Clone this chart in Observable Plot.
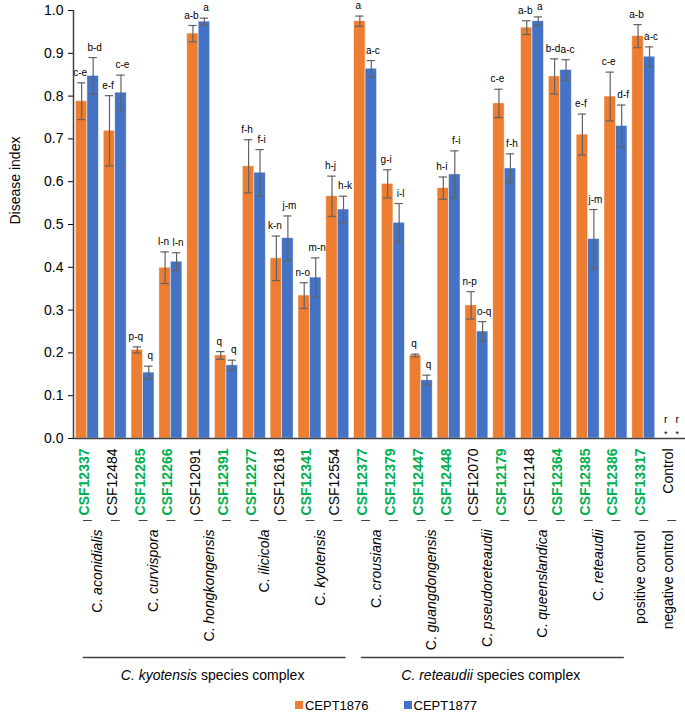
<!DOCTYPE html>
<html><head><meta charset="utf-8">
<script src="https://cdn.jsdelivr.net/npm/d3@7"></script>
<script src="https://cdn.jsdelivr.net/npm/@observablehq/plot@0.6"></script>
<style>
body{margin:0;background:#fff;font-family:"Liberation Sans",Arial,sans-serif;}
#legend{display:flex;justify-content:center;align-items:center;gap:35px;padding-left:87px;height:20px;font-size:13px;color:#000;}
#legend .it{display:flex;align-items:center;}
#legend .sw{display:inline-block;width:8px;height:8px;margin-right:2px;}
</style></head><body>
<div id="chart"></div>
<div id="legend"></div>
<script>
const isolates = ["CSF12337","CSF12484","CSF12265","CSF12266","CSF12091","CSF12391","CSF12277","CSF12618","CSF12341","CSF12554","CSF12377","CSF12379","CSF12447","CSF12448","CSF12070","CSF12179","CSF12148","CSF12364","CSF12385","CSF12386","CSF13317","Control"];
const highlighted = [true,false,true,true,false,true,true,false,true,false,true,true,true,true,false,true,false,true,true,true,true,false];
const species = ["C. aconidialis","C. curvispora","C. hongkongensis","C. ilicicola","C. kyotensis","C. crousiana","C. guangdongensis","C. pseudoreteaudii","C. queenslandica","C. reteaudii"];
const controlLabels = ["positive control","negative control"];
const complexes = ["C. kyotensis species complex","C. reteaudii species complex"];
const complexItalic = ["C. kyotensis","C. reteaudii"];
const series = ["CEPT1876","CEPT1877"];
const colors = ["#ED7D31","#4472C4"];
const mean1876 = [0.788,0.719,0.207,0.399,0.946,0.194,0.636,0.421,0.334,0.566,0.975,0.595,0.194,0.585,0.311,0.783,0.960,0.846,0.710,0.799,0.940,0];
const err1876  = [0.043,0.082,0.007,0.037,0.019,0.009,0.062,0.052,0.030,0.047,0.012,0.033,0.003,0.026,0.032,0.033,0.016,0.041,0.048,0.057,0.027,0];
const letters1876 = ["c-e","e-f","p-q","l-n","a-b","q","f-h","k-n","n-o","h-j","a","g-i","q","h-i","n-p","c-e","a-b","b-d","e-f","c-e","a-b","r"];
const mean1877 = [0.847,0.808,0.154,0.413,0.974,0.171,0.621,0.468,0.376,0.535,0.864,0.504,0.136,0.617,0.250,0.631,0.975,0.861,0.466,0.730,0.892,0];
const err1877  = [0.043,0.041,0.015,0.021,0.008,0.012,0.054,0.052,0.046,0.031,0.019,0.045,0.012,0.055,0.023,0.034,0.010,0.024,0.069,0.049,0.023,0];
const letters1877 = ["b-d","c-e","q","l-n","a","q","f-i","j-m","m-n","h-k","a-c","i-l","q","f-i","o-q","f-h","a","a-c","j-m","d-f","a-c","r"];
const yTicks = [0,0.1,0.2,0.3,0.4,0.5,0.6,0.7,0.8,0.9,1.0];

const rows = [];
isolates.forEach((iso, i) => {
  rows.push({i, s: 0, series: series[0], value: mean1876[i], err: err1876[i], letter: letters1876[i]});
  rows.push({i, s: 1, series: series[1], value: mean1877[i], err: err1877[i], letter: letters1877[i]});
});
const pad = 0.087;
const bx1 = d => d.i + (d.s === 0 ? pad : 0.5);
const bx2 = d => d.i + (d.s === 0 ? 0.5 : 1 - pad);
const bc = d => (bx1(d) + bx2(d)) / 2;
const cap = 0.15;
const drawn = rows.filter(d => d.value > 0);
const zero = rows.filter(d => d.value === 0);
const isoData = isolates.map((name, i) => ({name, i, hi: highlighted[i]}));
const spData = species.map((name, k) => ({name, k}));
const ctlData = controlLabels.map((name, k) => ({name, i: species.length * 2 + k}));
const cxData = complexes.map((name, k) => ({name, start: k * 10, end: k * 10 + 10}));
const axisColor = "#404040";

const chart = Plot.plot({
  width: 685, height: 695,
  marginLeft: 73, marginRight: 0, marginTop: 10, marginBottom: 257,
  style: {fontFamily: "Liberation Sans, Arial, sans-serif", fontSize: "14px", background: "#fff", color: "#000"},
  x: {domain: [0, isolates.length], axis: null},
  y: {domain: [0, 1], ticks: yTicks, tickFormat: d3.format(".1f"), tickSize: 5, tickPadding: 5, label: null},
  color: {domain: series, range: colors},
  marks: [
    Plot.rect(drawn, {x1: bx1, x2: bx2, y1: 0, y2: "value", fill: "series", stroke: "white", strokeWidth: 0.8, strokeOpacity: 0.6}),
    Plot.ruleX(drawn, {x: bc, y1: d => d.value - d.err, y2: d => d.value + d.err, stroke: "#636363", strokeWidth: 1.2}),
    Plot.ruleY(drawn, {y: d => d.value + d.err, x1: d => bc(d) - cap, x2: d => bc(d) + cap, stroke: "#636363", strokeWidth: 1.2}),
    Plot.ruleY(drawn, {y: d => d.value - d.err, x1: d => bc(d) - cap, x2: d => bc(d) + cap, stroke: "#636363", strokeWidth: 1.2}),
    Plot.text(drawn.filter(d => d.s === 0), {x: bc, y: d => d.value + d.err, text: "letter", dx: -1.5, dy: -10, fontSize: 10}),
    Plot.text(drawn.filter(d => d.s === 1), {x: bc, y: d => d.value + d.err, text: "letter", dx: 1.5, dy: -10, fontSize: 10}),
    Plot.text(zero, {x: bc, y: 0, text: "letter", dy: -19, fontSize: 10.5}),
    Plot.text(zero, {x: bc, y: 0, text: () => "*", dy: -4, fontSize: 9}),
    Plot.ruleY([0], {x1: 0, x2: isolates.length, stroke: axisColor, strokeWidth: 1.5}),
    Plot.ruleX([0], {y1: 0, y2: 1, stroke: axisColor, strokeWidth: 1.5}),
    Plot.text(isoData.filter(d => d.hi), {x: d => d.i + 0.5, frameAnchor: "bottom", text: "name", rotate: -90, textAnchor: "end", dx: 1.5, dy: 10, fill: "#00B050", fontWeight: "bold", fontSize: 14}),
    Plot.text(isoData.filter(d => !d.hi), {x: d => d.i + 0.5, frameAnchor: "bottom", text: "name", rotate: -90, textAnchor: "end", dx: 1.5, dy: 10, fill: "#000", fontSize: 14}),
    Plot.ruleY(isoData, {y: 0, x1: d => d.i + 0.36, x2: d => d.i + 0.68, dy: 82, stroke: axisColor, strokeWidth: 1}),
    Plot.text(spData, {x: d => 2 * d.k + 1, frameAnchor: "bottom", text: "name", rotate: -90, textAnchor: "end", dx: 1, dy: 91, fontSize: 14, fontStyle: "italic"}),
    Plot.text(ctlData, {x: d => d.i + 0.5, frameAnchor: "bottom", text: "name", rotate: -90, textAnchor: "end", dx: 1.5, dy: 92, fontSize: 14}),
    Plot.ruleY(cxData, {y: 0, x1: d => d.start + 0.35, x2: d => d.end - 0.2, dy: 219, stroke: axisColor, strokeWidth: 1.3}),
    Plot.text(cxData, {x: d => (d.start + d.end) / 2, y: 0, dy: 237, text: "name", fontSize: 14}),
    Plot.text(["Disease index"], {frameAnchor: "left", dx: -58, rotate: -90, fontSize: 14})
  ]
});

const NS = "http://www.w3.org/2000/svg";
function split(full, parts) {
  chart.querySelectorAll("text").forEach(t => {
    if (t.textContent === full && t.children.length === 0) {
      t.textContent = "";
      parts.forEach(([s, st]) => {
        const ts = document.createElementNS(NS, "tspan");
        ts.setAttribute("font-style", st);
        ts.textContent = s;
        t.appendChild(ts);
      });
    }
  });
}
species.forEach(s => split(s, [["C. ", "normal"], [s.slice(3), "italic"]]));
complexes.forEach((c, k) => split(c, [[complexItalic[k], "italic"], [c.slice(complexItalic[k].length), "normal"]]));

document.getElementById("chart").appendChild(chart);
const lg = document.getElementById("legend");
series.forEach((s, k) => {
  const it = document.createElement("span"); it.className = "it";
  const sw = document.createElement("span"); sw.className = "sw"; sw.style.background = colors[k];
  it.appendChild(sw); it.appendChild(document.createTextNode(s));
  lg.appendChild(it);
});
</script></body></html>
